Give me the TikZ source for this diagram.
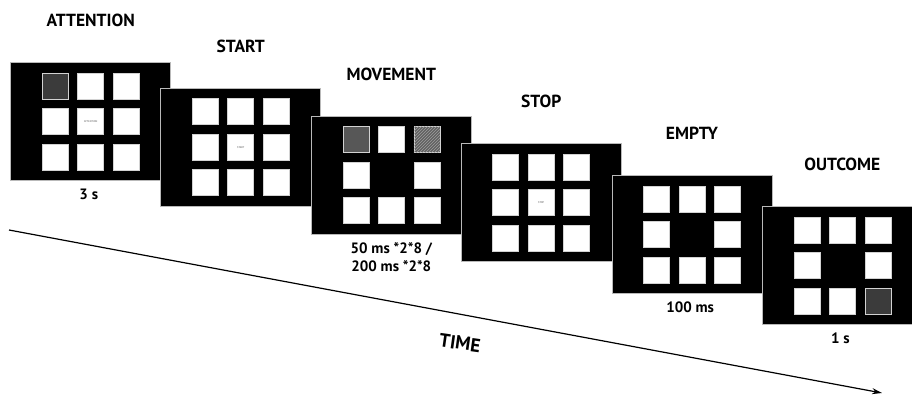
\documentclass[tikz,border=0pt]{standalone}
\usepackage{fontspec}
\setmainfont{PT Sans}
\usetikzlibrary{shapes,arrows,arrows.meta,positioning,patterns}
\tikzset{
  every node/.style={
    font=\bfseries\fontsize{17.5}{20}\selectfont
  },
  title/.style={
    inner sep=0pt,
    above=35pt of #1
  },
  duration/.style={
    inner sep=0pt,
    below=7.5pt of #1,
    align=center,
    font=\bfseries\fontsize{15}{18.3}\selectfont
  },
  screen/.style={
    shape=rectangle,
    minimum width=160pt,
    minimum height=118pt,
    inner sep=0pt,
    fill=black,
    draw=gray!55,
    line width=1pt
  },
  cell/.style={
    shape=rectangle,
    minimum size=26pt,
    inner sep=0pt,
    fill=white,
    draw=gray!35,
    line width=0.6pt,
    text=black!70,
    font=\fontsize{2.6}{3}\selectfont
  },
  target/.style={
    cell,
    fill=black!77
  },
  origin/.style={
    cell,
    fill=black!66
  },
  hatched/.style={
    cell,
    fill=black!62,
    postaction={pattern=north east lines, pattern color=gray!75}
  },
  timeline/.style={
    line width=1.2pt,
    -{Stealth[length=10pt,width=6pt]}
  }
}

\begin{document}
\begin{tikzpicture}[x=1pt,y=-1pt]
\useasboundingbox (0,0) rectangle (912,395);

% time axis
\coordinate (t0) at (9,230);
\coordinate (t1) at (882,393);
\draw[timeline] (t0) -- (t1);
\node [rotate=-8, font=\bfseries\fontsize{19}{20}\selectfont] (time) at (460,343) { TIME };

% attention
\node [screen] (attention) at (90.7,121.7) {};
\node [title=attention] (attention-title) { ATTENTION };
\node [duration=attention] (attention-time) { 3 s };
\foreach \c/\r in {2/1,3/1,1/2,3/2,1/3,2/3,3/3}
  \node [cell] (attention\c\r) at ([shift={({(\c-2)*35.5},{(\r-2)*35.5})}]attention) {};
\node [target] (attention11) at ([shift={(-35.5,-35.5)}]attention) {};
\node [cell] (attention22) at (attention) { ATTENTION };

% start
\node [screen] (start) at (240.7,147.3) {};
\node [title=start] (start-title) { START };
\foreach \c/\r in {1/1,2/1,3/1,1/2,3/2,1/3,2/3,3/3}
  \node [cell] (start\c\r) at ([shift={({(\c-2)*35.5},{(\r-2)*35.5})}]start) {};
\node [cell] (start22) at (start) { START };

% movement
\node [screen] (movement) at (391.3,175.3) {};
\node [title=movement] (movement-title) { MOVEMENT };
\node [duration=movement] (movement-time) { 50 ms *2*8 /\\200 ms *2*8 };
\foreach \c/\r in {2/1,1/2,3/2,1/3,2/3,3/3}
  \node [cell] (movement\c\r) at ([shift={({(\c-2)*35.5},{(\r-2)*35.5})}]movement) {};
\node [origin] (movement11) at ([shift={(-35.5,-35.5)}]movement) {};
\node [hatched] (movement31) at ([shift={(35.5,-35.5)}]movement) {};

% stop
\node [screen] (stop) at (541.2,202.8) {};
\node [title=stop] (stop-title) { STOP };
\foreach \c/\r in {1/1,2/1,3/1,1/2,3/2,1/3,2/3,3/3}
  \node [cell] (stop\c\r) at ([shift={({(\c-2)*35.5},{(\r-2)*35.5})}]stop) {};
\node [cell] (stop22) at (stop) { STOP };

% empty
\node [screen] (empty) at (692,234.5) {};
\node [title=empty] (empty-title) { EMPTY };
\node [duration=empty] (empty-time) { 100 ms };
\foreach \c/\r in {1/1,2/1,3/1,1/2,3/2,1/3,2/3,3/3}
  \node [cell] (empty\c\r) at ([shift={({(\c-2)*35.5},{(\r-2)*35.5})}]empty) {};

% outcome
\node [screen] (outcome) at (842.3,265.5) {};
\node [title=outcome] (outcome-title) { OUTCOME };
\node [duration=outcome] (outcome-time) { 1 s };
\foreach \c/\r in {1/1,2/1,3/1,1/2,3/2,1/3,2/3}
  \node [cell] (outcome\c\r) at ([shift={({(\c-2)*35.5},{(\r-2)*35.5})}]outcome) {};
\node [target] (outcome33) at ([shift={(35.5,35.5)}]outcome) {};

\end{tikzpicture}
\end{document}
